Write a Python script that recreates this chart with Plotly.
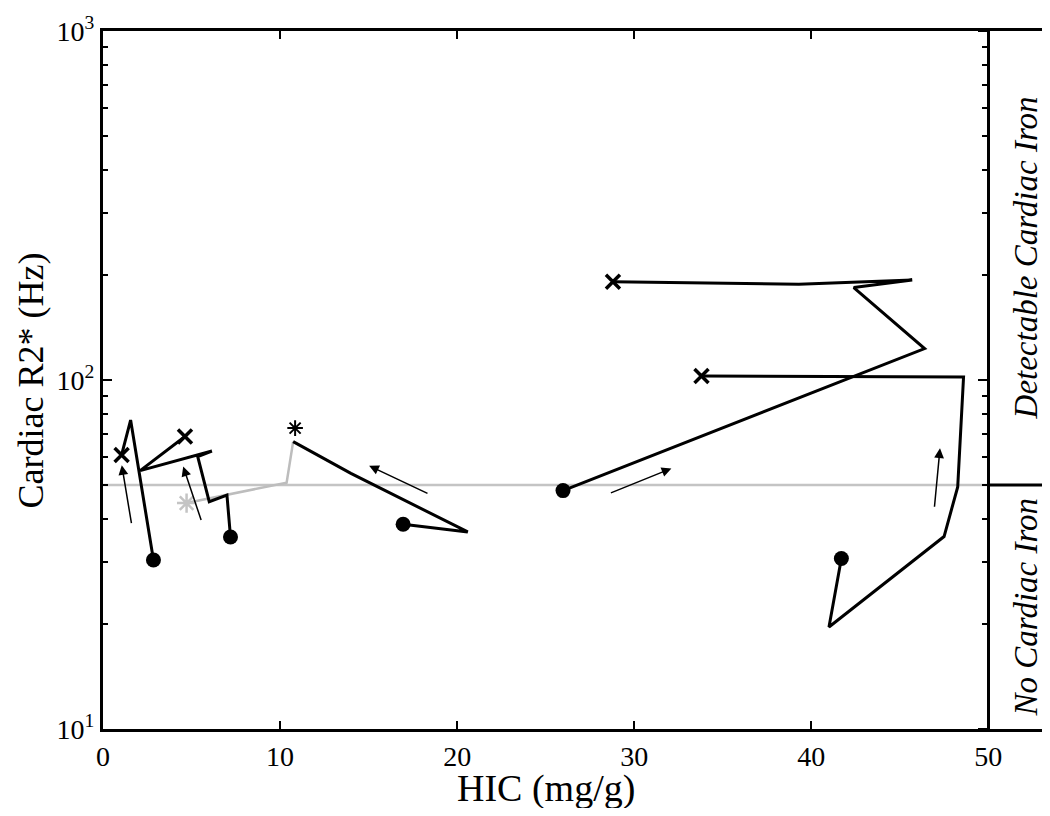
import numpy as np
import plotly.graph_objects as go

# HIC (mg/g) and cardiac R2* (Hz) per patient, ordered from first (dot) to last (x) exam
hic_a = [2.85, 1.56, 1.05]
r2_a = [30.5, 76.8, 61.0]

hic_b = [7.2, 7.0, 6.0, 5.35, 6.15, 2.1, 4.63]
r2_b = [35.5, 46.8, 44.8, 60.3, 62.6, 55.0, 68.9]

hic_c = [16.95, 20.6, 14.0, 10.74]
r2_c = [38.6, 36.7, 54.0, 66.6]
hic_c_grey = [10.74, 10.37, 4.72]
r2_c_grey = [66.6, 50.8, 44.4]
hic_star = [10.85]
r2_star = [72.8]

hic_d = [25.98, 46.4, 42.4, 45.7, 39.3, 28.8]
r2_d = [48.2, 123.0, 184.0, 193.5, 188.0, 191.3]

hic_e = [41.7, 41.0, 47.5, 48.27, 48.6, 33.8]
r2_e = [30.8, 19.6, 35.6, 49.4, 102.0, 102.6]

# cardiac iron threshold
threshold = 50.0
hic_max = 50.0
x_end = 53.2

# direction arrows: (tail hic, tail r2, head hic, head r2)
arrows = [
    (1.62, 38.5, 1.06, 57.0),
    (5.57, 39.3, 4.53, 56.5),
    (18.41, 47.1, 15.03, 56.8),
    (28.6, 47.3, 32.1, 55.8),
    (46.95, 42.9, 47.27, 63.7),
]

x_ticks = [0, 10, 20, 30, 40, 50]
y_ticks = [10, 100, 1000]
y_ticktext = ["10<sup>1</sup>", "10<sup>2</sup>", "10<sup>3</sup>"]
minor_vals = [m * 10 ** d for d in (1, 2) for m in range(2, 10)]

serif = "Liberation Serif"

fig = go.Figure()

# threshold line: grey inside the data area, black in the label strip
fig.add_trace(go.Scatter(x=[0, hic_max], y=[threshold, threshold], mode="lines",
                         line=dict(color="#c4c4c4", width=2.5), hoverinfo="skip"))
fig.add_trace(go.Scatter(x=[hic_max, x_end], y=[threshold, threshold], mode="lines",
                         line=dict(color="black", width=3), yaxis="y2", hoverinfo="skip"))

fig.add_trace(go.Scatter(x=hic_c_grey, y=r2_c_grey, mode="lines",
                         line=dict(color="#bdbdbd", width=2.5)))
fig.add_trace(go.Scatter(x=hic_c_grey[-1:], y=r2_c_grey[-1:], mode="markers",
                         marker=dict(symbol="asterisk", size=16,
                                     line=dict(color="#c4c4c4", width=2.5))))

for xs, ys in [(hic_a, r2_a), (hic_b, r2_b), (hic_c, r2_c), (hic_d, r2_d), (hic_e, r2_e)]:
    fig.add_trace(go.Scatter(x=xs, y=ys, mode="lines",
                             line=dict(color="black", width=3)))
    fig.add_trace(go.Scatter(x=xs[:1], y=ys[:1], mode="markers",
                             marker=dict(symbol="circle", size=15, color="black")))

for xs, ys in [(hic_a, r2_a), (hic_b, r2_b), (hic_d, r2_d), (hic_e, r2_e)]:
    fig.add_trace(go.Scatter(x=xs[-1:], y=ys[-1:], mode="markers",
                             marker=dict(symbol="x-thin", size=14,
                                         line=dict(color="black", width=3.5))))

fig.add_trace(go.Scatter(x=hic_star, y=r2_star, mode="markers",
                         marker=dict(symbol="asterisk", size=13,
                                     line=dict(color="black", width=2))))

for tx, ty, hx, hy in arrows:
    fig.add_annotation(x=hx, y=np.log10(hy), ax=tx, ay=np.log10(ty),
                       xref="x", yref="y", axref="x", ayref="y",
                       text="", showarrow=True, arrowhead=2, arrowsize=1.3,
                       arrowwidth=1.5, arrowcolor="black", standoff=0)

fig.add_annotation(x=25, y=-0.085, xref="x", yref="paper", text="HIC (mg/g)",
                   xanchor="center", yanchor="middle", showarrow=False,
                   font=dict(family=serif, size=38, color="black"))
fig.add_annotation(x=-0.076, y=0.5, xref="paper", yref="paper", text="Cardiac R2* (Hz)",
                   xanchor="center", yanchor="middle", textangle=-90, showarrow=False,
                   font=dict(family=serif, size=36, color="black"))
fig.add_annotation(x=52.15, y=np.log10(threshold) + (3 - np.log10(threshold)) / 2,
                   xref="x", yref="y", text="<i>Detectable Cardiac Iron</i>",
                   xanchor="center", yanchor="middle", textangle=-90, showarrow=False,
                   font=dict(family=serif, size=33, color="black"))
fig.add_annotation(x=52.15, y=(1 + np.log10(threshold)) / 2,
                   xref="x", yref="y", text="<i>No Cardiac Iron</i>",
                   xanchor="center", yanchor="middle", textangle=-90, showarrow=False,
                   font=dict(family=serif, size=33, color="black"))

yaxis_common = dict(type="log", range=[1, 3], tickvals=y_ticks, showgrid=False,
                    zeroline=False, showline=True, linecolor="black", linewidth=3,
                    ticklen=9, tickwidth=2, tickcolor="black",
                    minor=dict(tickvals=minor_vals, ticklen=5, tickwidth=2,
                               tickcolor="black"))

# the page body adds an 8px margin, so the figure is made a little smaller
fig.update_layout(
    width=1042, height=800,
    margin=dict(l=95, r=5, t=23, b=79),
    plot_bgcolor="white", paper_bgcolor="white",
    showlegend=False,
    xaxis=dict(range=[0, x_end], tickvals=x_ticks, showgrid=False, zeroline=False,
               showline=True, linecolor="black", linewidth=3, mirror="ticks",
               ticks="inside", ticklen=8, tickwidth=2, tickcolor="black",
               tickfont=dict(family=serif, size=28, color="black")),
    yaxis=dict(**yaxis_common, ticks="inside", ticktext=y_ticktext,
               tickfont=dict(family=serif, size=28, color="black")),
    yaxis2=dict(**yaxis_common, overlaying="y", anchor="free",
                position=hic_max / x_end, side="left", ticks="outside",
                showticklabels=False),
)
fig.layout.yaxis.minor.ticks = "inside"
fig.layout.yaxis2.minor.ticks = "outside"

fig.write_html("out.html")
